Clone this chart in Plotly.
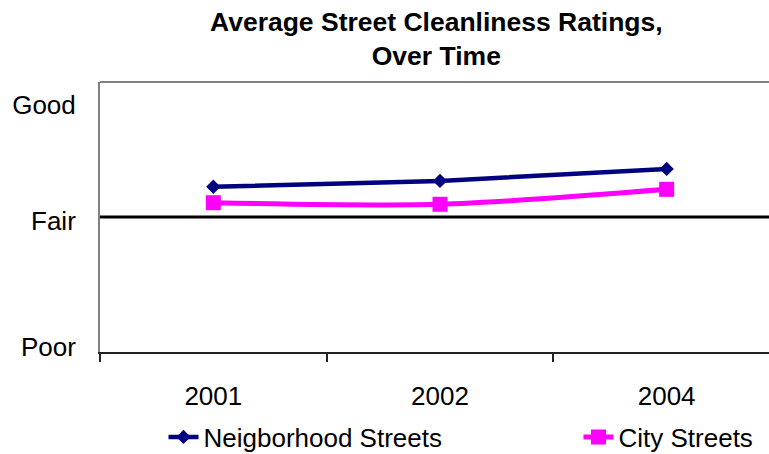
import plotly.graph_objects as go

# Survey years and average ratings (1 = Poor, 2 = Fair, 3 = Good)
years = ["2001", "2002", "2004"]
neighborhood = [2.224, 2.267, 2.356]
city = [2.106, 2.094, 2.205]

rating_labels = ["Poor", "Fair", "Good"]
fair_level = 2

# where each rating word sits along the y axis
label_anchor = [1.04, 1.97, 2.83]

NAVY = "#000080"
MAGENTA = "#FF00FF"
FONT = "Liberation Sans, Arial, sans-serif"
W, H = 769, 454

fig = go.Figure()

fig.add_trace(go.Scatter(
    x=years, y=neighborhood, name="Neigborhood Streets",
    mode="lines+markers", legend="legend",
    line=dict(color=NAVY, width=4.5),
    marker=dict(symbol="diamond", size=11, color=NAVY),
))
fig.add_trace(go.Scatter(
    x=years, y=city, name="City Streets",
    mode="lines+markers", legend="legend2",
    line=dict(color=MAGENTA, width=5, shape="spline", smoothing=0.8),
    marker=dict(symbol="square", size=15, color=MAGENTA),
))

# reference line at "Fair"
fig.add_shape(type="line", xref="paper", yref="y", x0=0, x1=1,
              y0=fair_level, y1=fair_level,
              line=dict(color="black", width=3), layer="below")
# top border of the plot area
fig.add_shape(type="line", xref="paper", yref="paper", x0=0, x1=1,
              y0=1, y1=1, line=dict(color="#808080", width=2))

# chart title
fig.add_annotation(
    text="<b>Average Street Cleanliness Ratings,<br>Over Time</b>",
    xref="paper", yref="paper",
    x=(436.5 - 100) / 669, y=1 + (82 - 5) / 270,
    xanchor="center", yanchor="top", showarrow=False,
    font=dict(family=FONT, size=26.5, color="black"),
)

legend_common = dict(
    orientation="h", xanchor="left", yanchor="middle",
    xref="container", yref="container",
    y=(H - 437) / H, font=dict(size=26), bgcolor="rgba(0,0,0,0)",
)

fig.update_layout(
    width=W, height=H,
    margin=dict(l=100, r=0, t=82, b=102, autoexpand=False),
    paper_bgcolor="white", plot_bgcolor="white",
    font=dict(family=FONT, size=26, color="black"),
    xaxis=dict(
        type="category",
        range=[-0.5, 2.5 - 11 / 227],
        showgrid=False, zeroline=False,
        showline=True, linecolor="#222222", linewidth=2,
        ticks="outside", tickson="boundaries", ticklen=8,
        tickcolor="#222222", tickwidth=2,
        ticklabelstandoff=20,
        tickfont=dict(size=26),
    ),
    yaxis=dict(
        range=[1, 3],
        showgrid=False, zeroline=False,
        showline=True, linecolor="#808080", linewidth=2,
        ticks="", tickvals=label_anchor, ticktext=rating_labels,
        ticklabelstandoff=17,
        tickfont=dict(size=26),
    ),
    legend=dict(legend_common, x=163.5 / W),
    legend2=dict(legend_common, x=578.5 / W),
    showlegend=True,
)

fig.write_html("out.html")
